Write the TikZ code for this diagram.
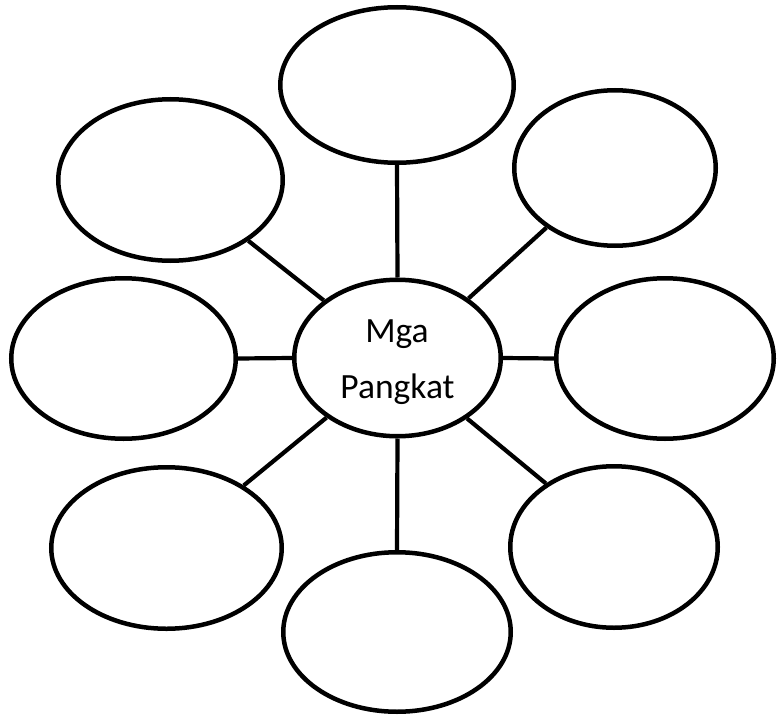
\documentclass[tikz,border=0pt]{standalone}
\usepackage{fontspec}
\setmainfont{Carlito}
\usetikzlibrary{shapes.geometric}
\tikzset{
  bubble/.style={draw=black, ellipse, line width=4.5pt, inner sep=0pt, fill=white},
  link/.style={draw=black, line width=4.2pt},
  lbl/.style={anchor=base, inner sep=0pt, font=\fontsize{35.5}{42}\selectfont}
}
\begin{document}
\begin{tikzpicture}[x=1pt,y=-1pt]
\useasboundingbox (0,0) rectangle (779,717);
\node[bubble, minimum width=206.5pt, minimum height=156.5pt] (c) at (397.5,358) {};
\node[bubble, minimum width=233.5pt, minimum height=155.5pt] (t) at (397,85) {};
\node[bubble, minimum width=224.5pt, minimum height=161.5pt] (tl) at (170.5,180) {};
\node[bubble, minimum width=201.5pt, minimum height=155.5pt] (tr) at (615,168) {};
\node[bubble, minimum width=224.5pt, minimum height=160.5pt] (l) at (123.5,358.5) {};
\node[bubble, minimum width=217.5pt, minimum height=160.5pt] (r) at (665,358.5) {};
\node[bubble, minimum width=230.5pt, minimum height=161.5pt] (bl) at (166.5,548) {};
\node[bubble, minimum width=207.5pt, minimum height=161.5pt] (br) at (614,547) {};
\node[bubble, minimum width=227.5pt, minimum height=159.5pt] (b) at (397,632) {};
\path[link] (c.90) -- (t.270);
\path[link] (c.142.6) -- (tl.-38);
\path[link] (c.40.3) -- (tr.221.5);
\path[link] (c.180) -- (l.0);
\path[link] (c.0) -- (r.180);
\path[link] (c.220.1) -- (bl.39.5);
\path[link] (c.319.9) -- (br.137.2);
\path[link] (c.270) -- (b.90);
\node[lbl] (m1) at (397,342) {Mga};
\node[lbl] (m2) at (397.5,398) {Pangkat};
\end{tikzpicture}
\end{document}
